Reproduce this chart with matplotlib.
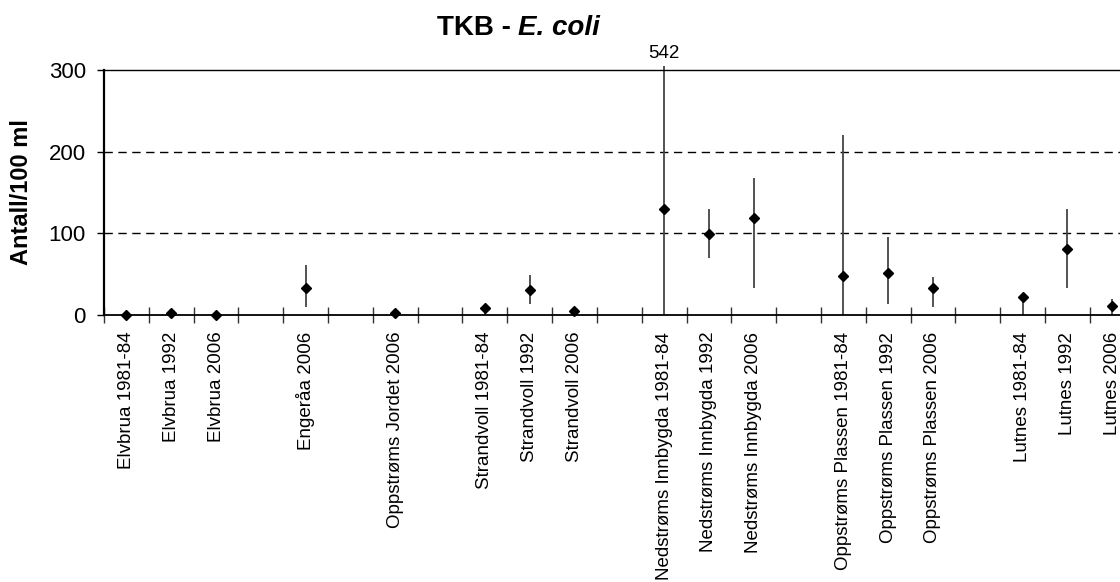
import numpy as np
import matplotlib
matplotlib.use("Agg")
import matplotlib.pyplot as plt

plt.rcParams["font.family"] = ["Liberation Sans", "DejaVu Sans"]

# Categories (empty strings are the gaps between stations)
labels = ["Elvbrua 1981-84", "Elvbrua 1992", "Elvbrua 2006", "",
          "Engeråa 2006", "", "Oppstrøms Jordet 2006", "",
          "Strandvoll 1981-84", "Strandvoll 1992", "Strandvoll 2006", "",
          "Nedstrøms Innbygda 1981-84", "Nedstrøms Innbygda 1992", "Nedstrøms Innbygda 2006", "",
          "Oppstrøms Plassen 1981-84", "Oppstrøms Plassen 1992", "Oppstrøms Plassen 2006", "",
          "Lutnes 1981-84", "Lutnes 1992", "Lutnes 2006"]
nan = np.nan
# central value and min/max range (Antall/100 ml)
value = [0.5, 2, 0.5, nan, 33, nan, 2, nan, 8, 31, 5, nan, 130, 99, 119, nan, 48, 52, 33, nan, 22, 81, 11]
low = [0.5, 2, 0.5, nan, 10, nan, 2, nan, 0, 13, 5, nan, 0, 70, 33, nan, 0, 13, 10, nan, 0, 33, 0]
high = [0.5, 2, 0.5, nan, 61, nan, 2, nan, 8, 49, 5, nan, 542, 130, 168, nan, 221, 95, 46, nan, 22, 130, 19]

ymax = 300
x = np.arange(len(labels))
value = np.array(value)
low = np.array(low)
high = np.array(high)

fig = plt.figure(figsize=(11.2, 5.82), dpi=100)
ax = fig.add_axes([104 / 1120, 1 - 315 / 582, (1134.6 - 104) / 1120, (315 - 70) / 582])

# gridlines
for g in [100, 200]:
    ax.axhline(g, color="black", lw=1.0, ls=(0, (6, 4)), zorder=1)

# min-max lines (the tall one runs slightly past the top of the plot)
ax.vlines(x, low, np.minimum(high, ymax * 1.017), color="#444444", lw=1.3, zorder=2, clip_on=False)
ax.plot(x, value, "D", color="black", ms=5.5, zorder=3, clip_on=False)

# label for the value that is off the scale
big = np.nanargmax(high)
ax.annotate(f"{high[big]:g}", xy=(x[big], ymax), xytext=(0, 9), textcoords="offset points",
            ha="center", va="baseline", fontsize=13.5)

ax.set_xlim(-0.5, len(labels) - 0.5)
ax.set_ylim(0, ymax)
ax.set_yticks([0, 100, 200, 300])
ax.tick_params(axis="y", direction="out", length=5, width=1, pad=8, labelsize=16)

ax.set_xticks(np.arange(len(labels) + 1) - 0.5)
ax.set_xticklabels([])
ax.set_xticks(x, minor=True)
ax.set_xticklabels(labels, minor=True, rotation=90, va="top", fontsize=13.5)
ax.tick_params(axis="x", which="major", direction="inout", length=11, width=1, color="#333333")
ax.tick_params(axis="x", which="minor", length=0, pad=12)

ax.spines["left"].set_linewidth(1.6)
ax.spines["bottom"].set_linewidth(1.3)
ax.spines["top"].set_linewidth(1.0)
ax.spines["right"].set_visible(False)

fig.text(22 / 1120, 1 - 192 / 582, "Antall/100 ml", rotation=90, ha="center", va="center",
         fontsize=17, fontweight="bold")

fig.text(511 / 1120, 1 - 35 / 582, "TKB -", ha="right", va="baseline", fontsize=20, fontweight="bold")
fig.text(518 / 1120, 1 - 35 / 582, "E. coli", ha="left", va="baseline", fontsize=20,
         fontweight="bold", fontstyle="italic")

fig.savefig("out.png", dpi=100)
